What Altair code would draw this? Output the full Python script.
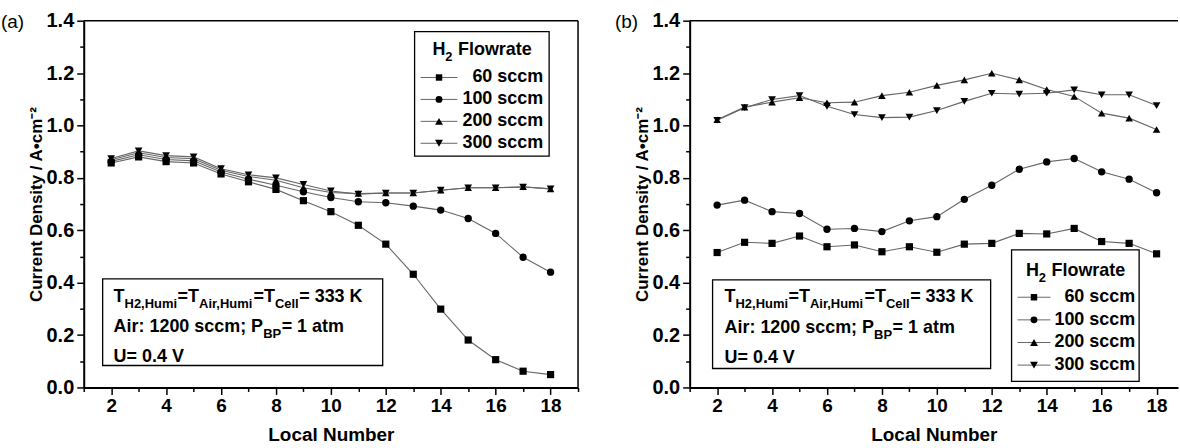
import altair as alt
import pandas as pd

# ---------------- data ----------------
local_number = list(range(2, 19))
flow_labels = ["60 sccm", "100 sccm", "200 sccm", "300 sccm"]
marker_shapes = ["square", "circle", "triangle-up", "triangle-down"]
marker_sizes = [52, 60, 78, 78]

# panel (a)
a_60 = [0.857, 0.880, 0.862, 0.857, 0.815, 0.785, 0.756, 0.713, 0.671, 0.619, 0.547, 0.432, 0.299, 0.181, 0.106, 0.062, 0.049]
a_100 = [0.863, 0.888, 0.870, 0.865, 0.822, 0.795, 0.772, 0.747, 0.725, 0.709, 0.705, 0.692, 0.677, 0.645, 0.588, 0.497, 0.440]
a_200 = [0.869, 0.896, 0.878, 0.873, 0.829, 0.805, 0.791, 0.762, 0.744, 0.740, 0.742, 0.742, 0.753, 0.762, 0.762, 0.766, 0.758]
a_300 = [0.874, 0.903, 0.885, 0.880, 0.835, 0.812, 0.800, 0.775, 0.750, 0.738, 0.742, 0.742, 0.753, 0.762, 0.762, 0.765, 0.758]

# panel (b)
b_60 = [0.515, 0.554, 0.550, 0.578, 0.537, 0.544, 0.518, 0.537, 0.516, 0.547, 0.550, 0.588, 0.586, 0.607, 0.557, 0.550, 0.510]
b_100 = [0.696, 0.715, 0.671, 0.664, 0.604, 0.607, 0.595, 0.636, 0.652, 0.718, 0.772, 0.833, 0.861, 0.874, 0.823, 0.795, 0.743]
b_200 = [1.022, 1.070, 1.089, 1.106, 1.087, 1.089, 1.114, 1.127, 1.153, 1.174, 1.199, 1.174, 1.137, 1.111, 1.047, 1.028, 0.985]
b_300 = [1.020, 1.068, 1.099, 1.114, 1.073, 1.042, 1.030, 1.032, 1.057, 1.092, 1.123, 1.120, 1.123, 1.136, 1.117, 1.117, 1.076]

y_ticks = [round(i * 0.1, 1) for i in range(15)]

# ---------------- style ----------------
FONT = "Liberation Sans"
LINE = "#666666"
H = 368
MAIN = 18
SUB = 13

# Liberation Sans Bold advance widths (per 1000 em) for laying out sub-scripted text
_W = {"T": 611, "H": 722, "2": 556, ",": 278, "u": 611, "m": 889, "i": 278, "=": 584,
      "A": 722, "r": 389, "C": 722, "e": 556, "l": 278, " ": 278, "3": 556, "K": 722,
      ":": 333, "1": 556, "0": 556, "s": 556, "c": 556, ";": 333, "P": 667, "B": 722,
      "a": 556, "t": 333, "U": 722, ".": 278, "4": 556, "V": 667, "F": 611, "o": 611, "w": 778}


def tw(s, size):
    return sum(_W.get(ch, 556) for ch in s) * size / 1000.0


one = alt.Chart(pd.DataFrame({"k": [0]}))


def txt(s, x, y, size, weight="bold", align="left", baseline="alphabetic"):
    return one.mark_text(text=s, font=FONT, fontSize=size, fontWeight=weight, align=align,
                         baseline=baseline, color="black").encode(x=alt.value(x), y=alt.value(y))


def box(x0, x1, y0, y1):
    return one.mark_rect(fill="white", stroke="black", strokeWidth=1.3).encode(
        x=alt.value(x0), x2=alt.value(x1), y=alt.value(y0), y2=alt.value(y1))


def sub_line(pieces, x, y):
    """pieces: list of (text, is_sub)"""
    layers = []
    cx = x
    for s, is_sub in pieces:
        size = SUB if is_sub else MAIN
        lead = tw(" ", size) if s.startswith(" ") else 0
        layers.append(txt(s.strip(), cx + lead, y + (6 if is_sub else 0), size))
        cx += tw(s, size) + (0.5 if is_sub else 0)
    return layers


def annotation(x_box, y_box, w_box, h_box, tx, ty, dy):
    layers = [box(x_box, x_box + w_box, y_box, y_box + h_box)]
    layers += sub_line([("T", False), ("H2,Humi", True), ("=T", False), ("Air,Humi", True),
                        ("=T", False), ("Cell", True), ("= 333 K", False)], tx, ty)
    layers += sub_line([("Air: 1200 sccm; P", False), ("BP", True), ("= 1 atm", False)], tx, ty + dy)
    layers += sub_line([("U= 0.4 V", False)], tx, ty + 2 * dy - 1)
    return layers


def legend(x0, x1, y0, y1, title_y, row_y0, row_dy, line_x0, line_x1, text_right):
    layers = [box(x0, x1, y0, y1)]
    tx = (x0 + x1) / 2 - (tw("H", MAIN) + tw("2", SUB) + tw(" Flowrate", MAIN)) / 2
    layers += sub_line([("H", False), ("2", True), (" Flowrate", False)], tx, title_y)
    for i, (lab, shp, sz) in enumerate(zip(flow_labels, marker_shapes, marker_sizes)):
        yy = row_y0 + i * row_dy
        layers.append(one.mark_rule(color=LINE, strokeWidth=1).encode(
            x=alt.value(line_x0), x2=alt.value(line_x1), y=alt.value(yy)))
        layers.append(one.mark_point(shape=shp, filled=True, color="black", opacity=1, size=sz * 0.8).encode(
            x=alt.value((line_x0 + line_x1) / 2), y=alt.value(yy)))
        layers.append(txt(lab, text_right, yy, MAIN, align="right", baseline="middle"))
    return layers


def long_df(series):
    rows = []
    for name, vals in zip(flow_labels, series):
        for x, v in zip(local_number, vals):
            rows.append({"local": x, "cd": v, "flow": name})
    return pd.DataFrame(rows)


def panel(series, tag, tag_x, W, xmax, x_vals, right_border, leg, note):
    df = long_df(series)
    xenc = alt.X("local:Q", scale=alt.Scale(domain=[1, xmax], nice=False, zero=False),
                 axis=alt.Axis(values=x_vals, title="Local Number",
                               labelExpr="datum.value % 2 == 0 ? datum.label : ''",
                               tickSize={"condition": {"test": "datum.value % 2 == 0", "value": 7}, "value": 4},
                               labelFontSize=19, titleFontSize=19, titlePadding=10))
    yenc = alt.Y("cd:Q", scale=alt.Scale(domain=[0, 1.4], nice=False, zero=True),
                 axis=alt.Axis(values=y_ticks, title="Current Density / A\u2022cm\u207b\u00b2",
                               labelExpr="round(datum.value*10) % 2 == 0 ? format(datum.value, '.1f') : ''",
                               tickSize={"condition": {"test": "round(datum.value*10) % 2 == 0", "value": 7}, "value": 4},
                               labelFontSize=20, labelPadding=3, titleFontSize=17, titlePadding=1))
    base = alt.Chart(df)
    lines = base.mark_line(color=LINE, strokeWidth=1.1).encode(x=xenc, y=yenc, detail="flow:N")
    pts = base.mark_point(filled=True, opacity=1, color="black").encode(
        x=xenc, y=yenc,
        shape=alt.Shape("flow:N", scale=alt.Scale(domain=flow_labels, range=marker_shapes), legend=None),
        size=alt.Size("flow:N", scale=alt.Scale(domain=flow_labels, range=marker_sizes), legend=None))
    layers = [lines, pts]
    layers.append(one.mark_rule(color="black", strokeWidth=1.5).encode(
        x=alt.value(0), x2=alt.value(W), y=alt.value(0)))
    if right_border:
        layers.append(one.mark_rule(color="black", strokeWidth=1.5).encode(
            x=alt.value(W), y=alt.value(0), y2=alt.value(H)))
    layers += annotation(*note)
    layers += legend(*leg)
    layers.append(txt(tag, tag_x, 1, 19, weight="normal", baseline="middle"))
    return alt.layer(*layers).properties(width=W, height=H)


pa = panel([a_60, a_100, a_200, a_300], "(a)", -83, 496, 19, list(range(1, 20)), True,
           leg=(332, 467, 11, 136, 34, 57, 22, 338, 375, 461),
           note=(19, 259, 281, 87, 30, 282, 30.5))
pb = panel([b_60, b_100, b_200, b_300], "(b)", -75, 490, 18.78, list(range(1, 19)), False,
           leg=(323, 451, 230, 362, 256, 277.5, 22.7, 329, 362, 447),
           note=(23, 260, 279, 89, 35, 282, 31))

chart = alt.hconcat(pa, pb, spacing=34).properties(
    padding={"left": 0, "top": 9, "right": 0, "bottom": 0}
).configure_view(stroke="transparent").configure_axis(
    grid=False, domainColor="black", domainWidth=2, tickColor="black", tickWidth=1.5,
    labelFont=FONT, labelFontSize=MAIN, labelFontWeight="bold", labelColor="black", labelPadding=2,
    titleFont=FONT, titleFontSize=MAIN, titleFontWeight="bold", titleColor="black"
)

chart.save("out.html", embed_options={"renderer": "svg", "actions": False})
